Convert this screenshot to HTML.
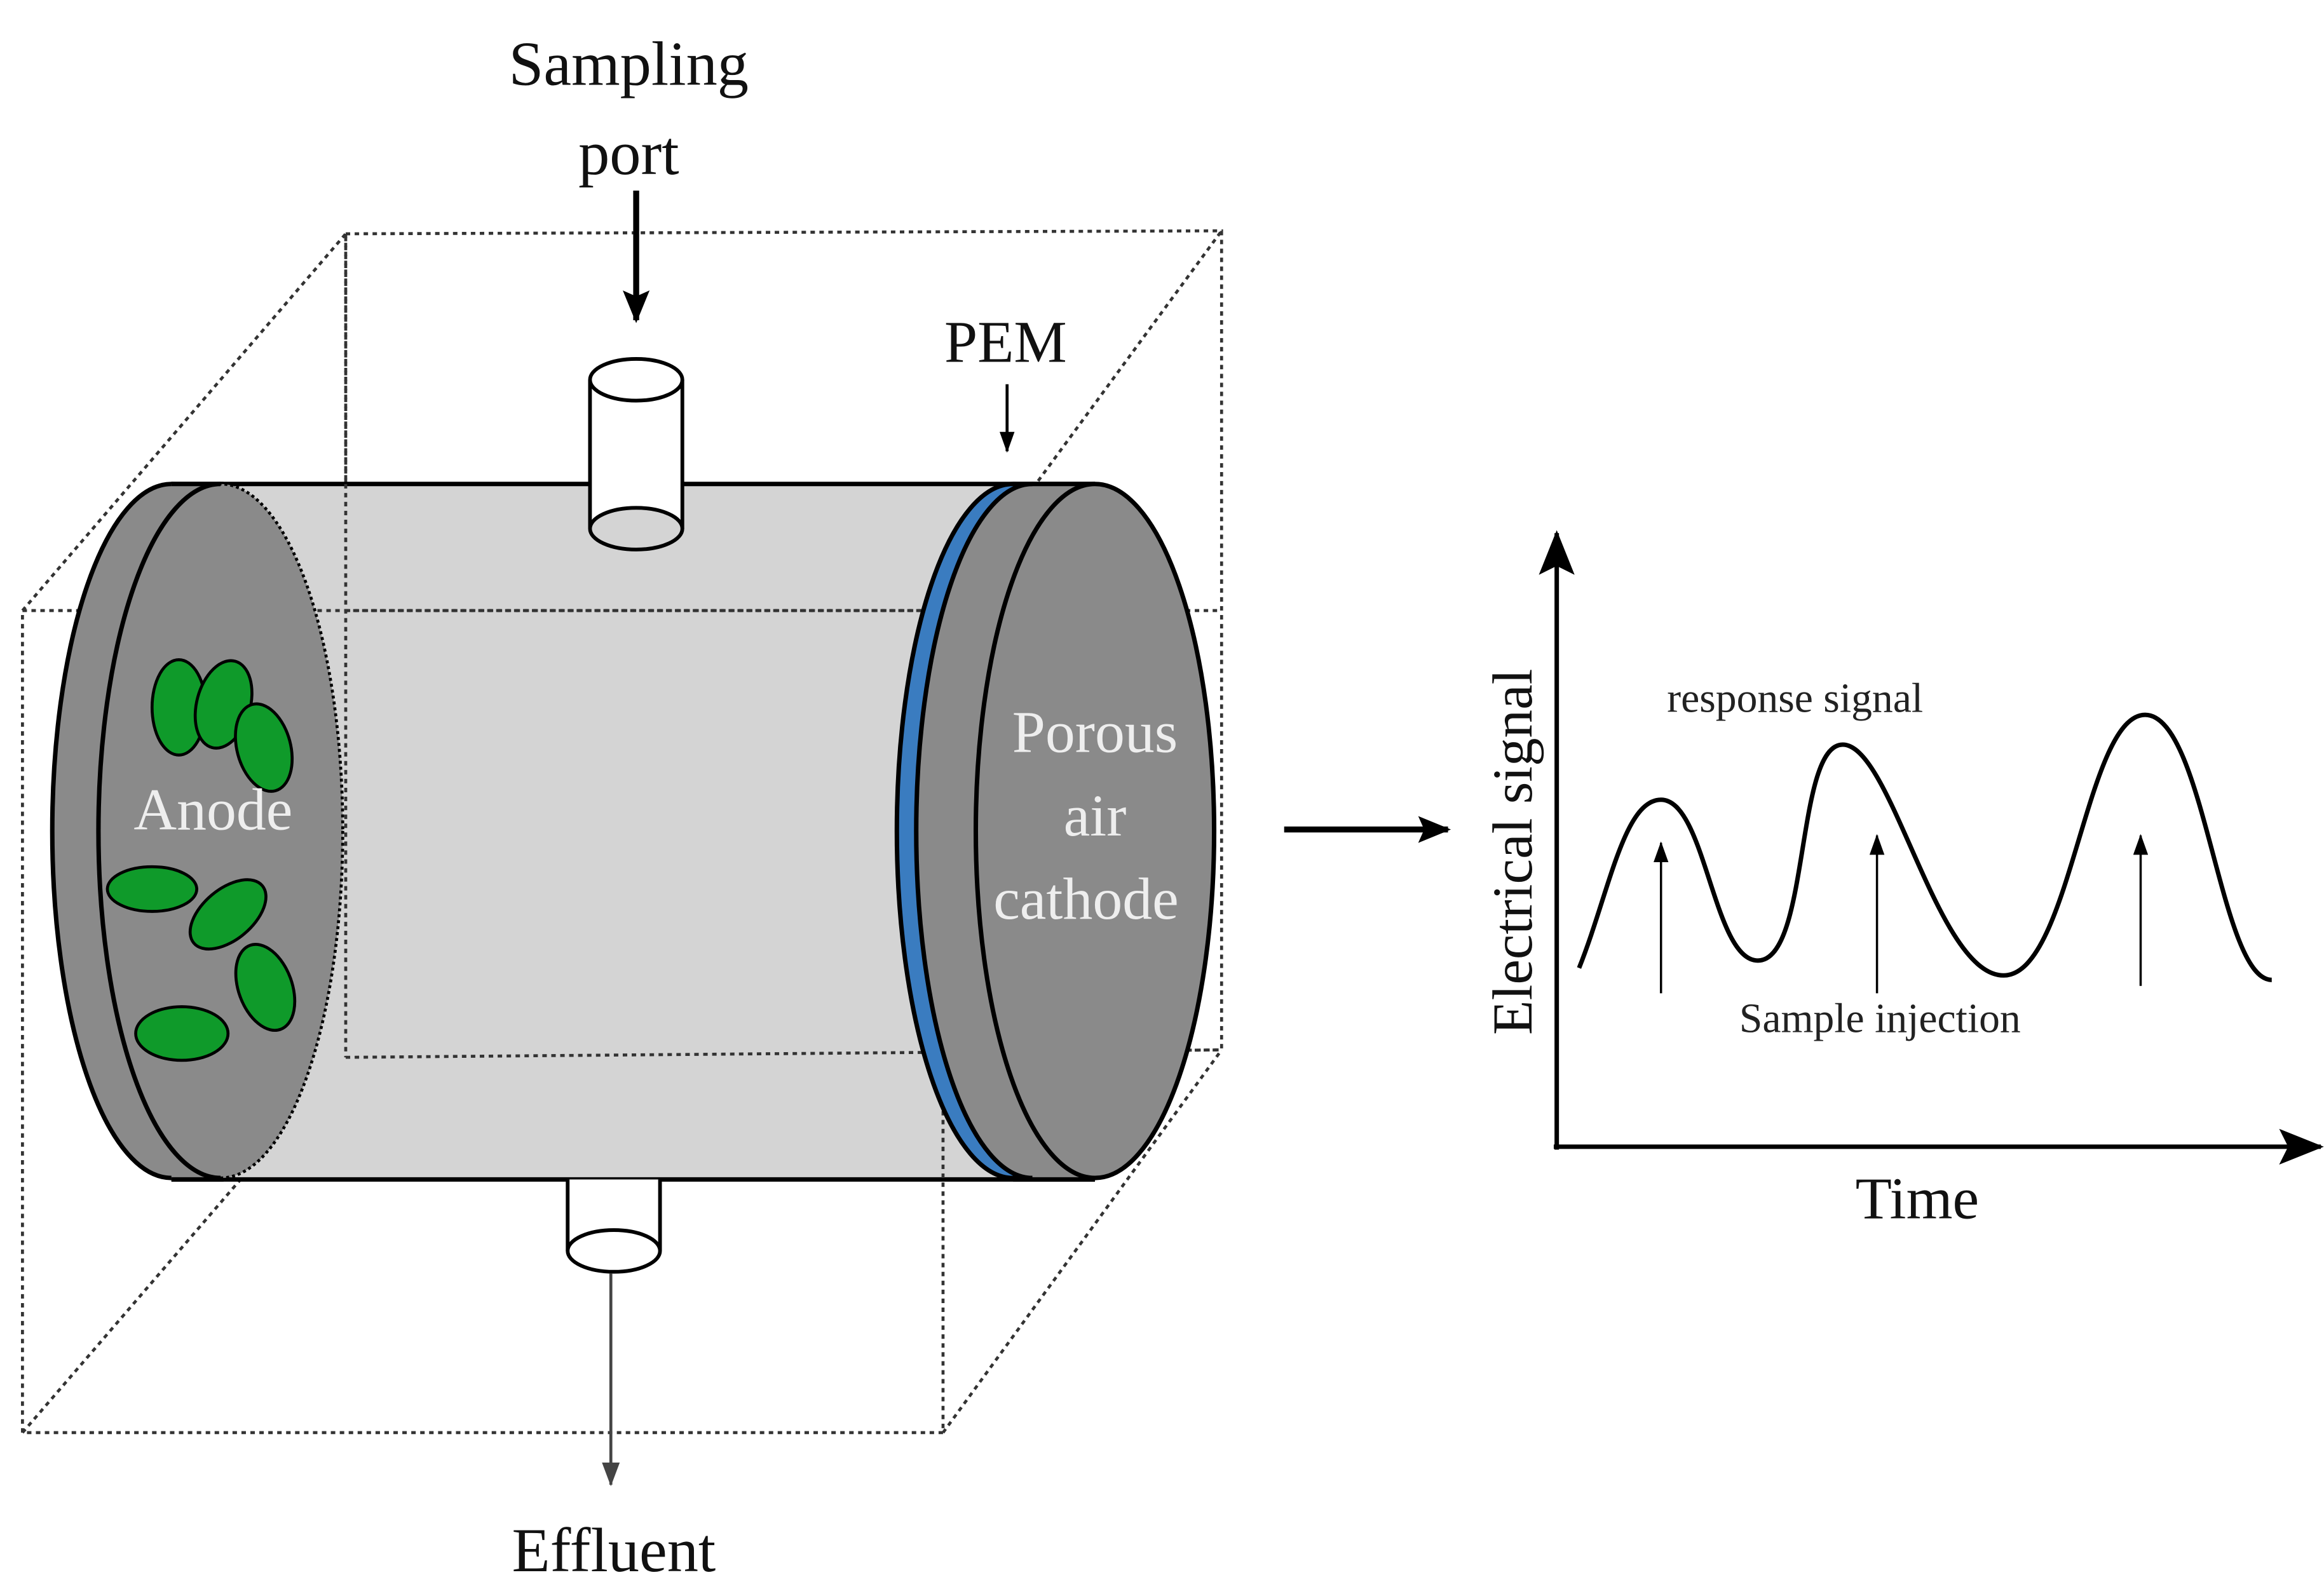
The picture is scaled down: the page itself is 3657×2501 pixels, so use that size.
<!DOCTYPE html>
<html><head><meta charset="utf-8"><style>html,body{margin:0;padding:0;background:#fff}svg{display:block}</style></head>
<body>
<svg width="3657" height="2501" viewBox="0 0 1560 1067" xmlns="http://www.w3.org/2000/svg" font-family="'Liberation Serif', serif">
<defs>
<marker id="ah" markerWidth="10" markerHeight="10" refX="8" refY="5" orient="auto" markerUnits="userSpaceOnUse" viewBox="0 0 10 10"><path d="M0,0 L10,5 L0,10 z" fill="#000"/></marker>
<marker id="big" markerWidth="30" markerHeight="24" refX="28" refY="12" orient="auto" markerUnits="userSpaceOnUse" viewBox="0 0 30 24"><path d="M0,0 L30,12 L0,24 L6,12 z" fill="#000"/></marker>
<marker id="mid" markerWidth="22" markerHeight="18" refX="20" refY="9" orient="auto" markerUnits="userSpaceOnUse" viewBox="0 0 22 18"><path d="M0,0 L22,9 L0,18 L4,9 z" fill="#000"/></marker>
<marker id="sm" markerWidth="14" markerHeight="10" refX="13" refY="5" orient="auto" markerUnits="userSpaceOnUse" viewBox="0 0 14 10"><path d="M0,0 L14,5 L0,10 z" fill="#000"/></marker>
<marker id="gr" markerWidth="16" markerHeight="12" refX="15" refY="6" orient="auto" markerUnits="userSpaceOnUse" viewBox="0 0 16 12"><path d="M0,0 L16,6 L0,12 z" fill="#444"/></marker>
</defs>
<g fill="none" stroke="#333" stroke-width="2" stroke-dasharray="3,3">
<polygon points="232,157 820,155 820,705 232,710"/>
<line x1="15" y1="410" x2="232" y2="157"/>
<line x1="633" y1="410" x2="820" y2="155"/>
<line x1="15" y1="962" x2="232" y2="710"/>
<line x1="633" y1="962" x2="820" y2="705"/>
</g>
<rect x="115" y="325" width="620" height="467" fill="#d4d4d4"/>
<line x1="115" y1="325" x2="735" y2="325" stroke="#000" stroke-width="3"/>
<line x1="115" y1="792" x2="735" y2="792" stroke="#000" stroke-width="3"/>
<rect x="396" y="255" width="62" height="100" fill="#fff" stroke="none"/>
<line x1="396" y1="255" x2="396" y2="355" stroke="#000" stroke-width="2.5"/>
<line x1="458" y1="255" x2="458" y2="355" stroke="#000" stroke-width="2.5"/>
<ellipse cx="427" cy="355" rx="31" ry="14" fill="#d4d4d4" stroke="#000" stroke-width="2.5"/>
<ellipse cx="427" cy="255" rx="31" ry="14" fill="#fff" stroke="#000" stroke-width="2.5"/>
<rect x="381" y="792" width="62" height="48" fill="#fff"/>
<line x1="381" y1="792" x2="381" y2="840" stroke="#000" stroke-width="2.5"/>
<line x1="443" y1="792" x2="443" y2="840" stroke="#000" stroke-width="2.5"/>
<ellipse cx="412" cy="840" rx="31" ry="14" fill="#fff" stroke="#000" stroke-width="2.5"/>
<g fill="none" stroke="#333" stroke-width="2" stroke-dasharray="3,3">
<polygon points="15,410 633,410 633,962 15,962"/>
<line x1="232" y1="157" x2="232" y2="710"/>
<line x1="232" y1="410" x2="820" y2="410"/>
<line x1="232" y1="710" x2="820" y2="705"/>
</g>
<ellipse cx="115" cy="558" rx="80" ry="233" fill="#8a8a8a" stroke="#000" stroke-width="3"/>
<rect x="115" y="325" width="33" height="467" fill="#8a8a8a"/>
<line x1="115" y1="325" x2="150" y2="325" stroke="#000" stroke-width="3"/>
<line x1="115" y1="792" x2="150" y2="792" stroke="#000" stroke-width="3"/>
<ellipse cx="148" cy="558" rx="82" ry="233" fill="#8a8a8a" stroke="#000" stroke-width="2" stroke-dasharray="2,2"/>
<path d="M148,325 A82,233 0 0 0 148,791" fill="none" stroke="#000" stroke-width="3"/>
<g fill="#0f9a2a" stroke="#000" stroke-width="2">
<ellipse cx="120" cy="475" rx="18" ry="32"/>
<ellipse cx="150" cy="473" rx="18" ry="30" transform="rotate(15 150 473)"/>
<ellipse cx="177" cy="502" rx="18" ry="30" transform="rotate(-15 177 502)"/>
<ellipse cx="102" cy="597" rx="30" ry="15"/>
<ellipse cx="153" cy="614" rx="30" ry="17" transform="rotate(-40 153 614)"/>
<ellipse cx="178" cy="663" rx="18" ry="30" transform="rotate(-20 178 663)"/>
<ellipse cx="122" cy="694" rx="31" ry="18"/>
</g>
<text x="143" y="557" font-size="40" fill="#eee" text-anchor="middle">Anode</text>
<ellipse cx="680" cy="558" rx="78" ry="233" fill="#3a7cc0" stroke="#000" stroke-width="3"/>
<ellipse cx="693" cy="558" rx="78" ry="233" fill="#8a8a8a" stroke="#000" stroke-width="3"/>
<rect x="693" y="325" width="42" height="467" fill="#8a8a8a"/>
<line x1="680" y1="325" x2="735" y2="325" stroke="#000" stroke-width="3"/>
<line x1="680" y1="792" x2="735" y2="792" stroke="#000" stroke-width="3"/>
<ellipse cx="735" cy="558" rx="80" ry="233" fill="#8a8a8a" stroke="#000" stroke-width="3"/>
<text font-size="40" fill="#eee" text-anchor="middle"><tspan x="735" y="505">Porous</tspan><tspan x="735" y="561">air</tspan><tspan x="729" y="617">cathode</tspan></text>
<text x="422" y="57" font-size="42" text-anchor="middle" fill="#111">Sampling</text>
<text x="422" y="117" font-size="42" text-anchor="middle" fill="#111">port</text>
<line x1="427" y1="128" x2="427" y2="215" stroke="#000" stroke-width="4" marker-end="url(#mid)"/>
<text x="675" y="243" font-size="40" text-anchor="middle" fill="#111">PEM</text>
<line x1="676" y1="258" x2="676" y2="303" stroke="#000" stroke-width="2" marker-end="url(#sm)"/>
<line x1="410" y1="855" x2="410" y2="997" stroke="#444" stroke-width="2" marker-end="url(#gr)"/>
<text x="412" y="1055" font-size="42" text-anchor="middle" fill="#111">Effluent</text>
<line x1="862" y1="557" x2="972" y2="557" stroke="#000" stroke-width="4" marker-end="url(#mid)"/>
<line x1="1045" y1="772" x2="1045" y2="358" stroke="#000" stroke-width="3" marker-end="url(#big)"/>
<line x1="1043" y1="770" x2="1558" y2="770" stroke="#000" stroke-width="3" marker-end="url(#big)"/>
<path d="M1060,650 C1080,600 1090,537 1115,537 C1145,537 1150,645 1180,645 C1215,645 1205,500 1237,500 C1270,500 1300,655 1345,655 C1390,655 1400,480 1440,480 C1480,480 1490,658 1525,658" fill="none" stroke="#000" stroke-width="3"/>
<line x1="1115" y1="667" x2="1115" y2="566" stroke="#000" stroke-width="1.5" marker-end="url(#sm)"/>
<line x1="1260" y1="667" x2="1260" y2="561" stroke="#000" stroke-width="1.5" marker-end="url(#sm)"/>
<line x1="1437" y1="662" x2="1437" y2="561" stroke="#000" stroke-width="1.5" marker-end="url(#sm)"/>
<text x="1205" y="478" font-size="28" text-anchor="middle" fill="#222">response signal</text>
<text x="1262" y="693" font-size="28" text-anchor="middle" fill="#222">Sample injection</text>
<text x="1287" y="818" font-size="40" text-anchor="middle" fill="#111">Time</text>
<text x="0" y="0" font-size="38" text-anchor="middle" fill="#111" transform="translate(1028,572) rotate(-90)">Electrical signal</text>
</svg>
</body></html>
